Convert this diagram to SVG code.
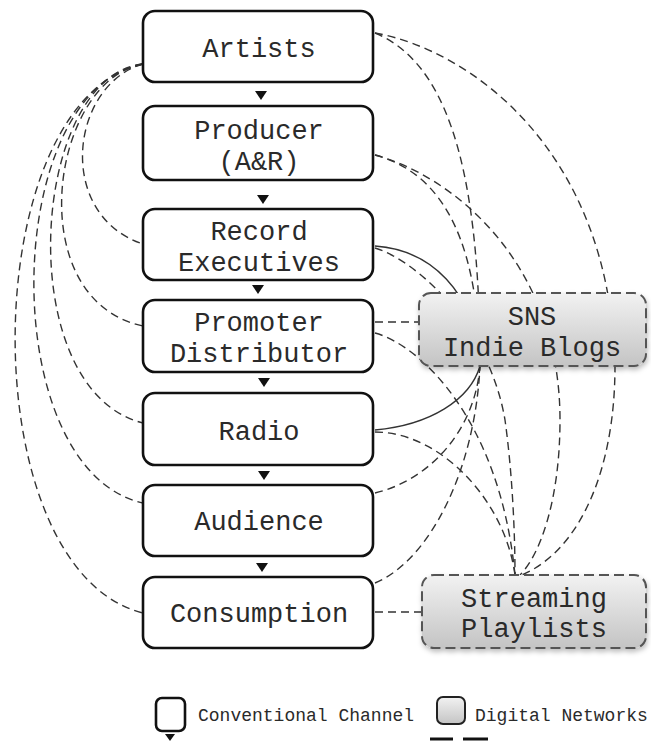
<svg xmlns="http://www.w3.org/2000/svg" width="651" height="742" viewBox="0 0 651 742">
  <defs>
    <linearGradient id="digitalFill" x1="0" y1="0" x2="0" y2="1">
      <stop offset="0" stop-color="#f2f2f2"/>
      <stop offset="1" stop-color="#c4c4c4"/>
    </linearGradient>
    <filter id="softShadow" x="-10%" y="-10%" width="125%" height="135%">
      <feDropShadow dx="1" dy="3" stdDeviation="2.5" flood-color="#000" flood-opacity="0.25"/>
    </filter>
    <style>
      .conv { fill: #ffffff; stroke: #111; stroke-width: 2.6; }
      .digital { fill: url(#digitalFill); stroke: #555; stroke-width: 2; stroke-dasharray: 10 5; filter: url(#softShadow); }
      .label { font-family: "Liberation Mono", "DejaVu Sans Mono", monospace; font-size: 27px; fill: #2a2a2a; text-anchor: middle; }
      .legend-text { font-family: "Liberation Mono", "DejaVu Sans Mono", monospace; font-size: 18px; fill: #2a2a2a; }
      .dash { fill: none; stroke: #333; stroke-width: 1.4; stroke-dasharray: 8 5; }
      .solid { fill: none; stroke: #333; stroke-width: 1.4; }
      .tri { fill: #111; }
    </style>
  </defs>

  <!-- connectors: drawn first so the boxes sit on top -->
  <g id="connectors">
    <!-- Artists to every later stage (left side) -->
    <path class="dash" d="M143,64 C70,85 55,215 143,244"/>
    <path class="dash" d="M143,64 C50,80 20,300 143,326"/>
    <path class="dash" d="M143,64 C30,75 10,390 143,423"/>
    <path class="dash" d="M143,64 C0,90 -5,470 143,503"/>
    <path class="dash" d="M143,64 C-25,100 -30,570 143,613"/>

    <!-- links into SNS / Indie Blogs -->
    <path class="dash" d="M375,33 C440,60 480,150 480,366"/>
    <path class="dash" d="M375,155 C430,170 478,220 480,366"/>
    <path class="solid" d="M375,246 C430,250 475,290 480,366"/>
    <path class="dash" d="M375,322 H419"/>
    <path class="solid" d="M375,430 C430,425 470,400 480,366"/>
    <path class="dash" d="M375,493 C430,480 475,430 480,366"/>
    <path class="dash" d="M375,583 C430,560 475,470 480,366"/>

    <!-- links into Streaming Playlists -->
    <path class="dash" d="M375,33 C470,50 610,150 615,366 C615,470 580,550 522,575"/>
    <path class="dash" d="M375,155 C450,175 560,260 560,420 C560,500 540,555 520,575"/>
    <path class="dash" d="M375,248 C420,262 490,330 505,420 C512,470 515,530 515,575"/>
    <path class="dash" d="M375,333 C420,345 500,420 515,575"/>
    <path class="dash" d="M375,432 C440,432 505,500 515,575"/>
    <path class="dash" d="M375,612 H422"/>

    <!-- flow arrows of the conventional channel -->
    <polygon class="tri" points="255,91 267,91 261,100"/>
    <polygon class="tri" points="257,195 269,195 263,204"/>
    <polygon class="tri" points="252,285 264,285 258,294"/>
    <polygon class="tri" points="258,378 270,378 264,387"/>
    <polygon class="tri" points="258,471 270,471 264,480"/>
    <polygon class="tri" points="256,563 268,563 262,572"/>
  </g>

  <!-- conventional channel -->
  <g id="artists">
    <rect class="conv" x="143" y="11" width="230" height="71" rx="12"/>
    <text class="label" x="259" y="57">Artists</text>
  </g>
  <g id="producer">
    <rect class="conv" x="143" y="106" width="230" height="74" rx="12"/>
    <text class="label" x="259" y="139">Producer</text>
    <text class="label" x="259" y="170">(A&amp;R)</text>
  </g>
  <g id="record-executives">
    <rect class="conv" x="143" y="209" width="230" height="71" rx="12"/>
    <text class="label" x="259" y="240">Record</text>
    <text class="label" x="259" y="271">Executives</text>
  </g>
  <g id="promoter-distributor">
    <rect class="conv" x="143" y="300" width="230" height="72" rx="12"/>
    <text class="label" x="259" y="331">Promoter</text>
    <text class="label" x="259" y="362">Distributor</text>
  </g>
  <g id="radio">
    <rect class="conv" x="143" y="393" width="230" height="72" rx="12"/>
    <text class="label" x="259" y="440">Radio</text>
  </g>
  <g id="audience">
    <rect class="conv" x="143" y="485" width="230" height="71" rx="12"/>
    <text class="label" x="259" y="530">Audience</text>
  </g>
  <g id="consumption">
    <rect class="conv" x="143" y="577" width="230" height="71" rx="12"/>
    <text class="label" x="259" y="622">Consumption</text>
  </g>

  <!-- digital networks -->
  <g id="sns-indie-blogs">
    <rect class="digital" x="419" y="293" width="227" height="73" rx="12"/>
    <text class="label" x="532" y="325">SNS</text>
    <text class="label" x="532" y="356">Indie Blogs</text>
  </g>
  <g id="streaming-playlists">
    <rect class="digital" x="422" y="575" width="224" height="73" rx="12"/>
    <text class="label" x="534" y="607">Streaming</text>
    <text class="label" x="534" y="637">Playlists</text>
  </g>

  <!-- legend -->
  <g id="legend">
    <rect class="conv" x="156" y="698" width="29" height="33" rx="6"/>
    <polygon class="tri" points="165,734 175,734 170,741"/>
    <text class="legend-text" x="198" y="721">Conventional Channel</text>
    <rect x="437" y="697" width="28" height="27" rx="6" fill="url(#digitalFill)" stroke="#222" stroke-width="2"/>
    <line x1="430" y1="739" x2="453" y2="739" stroke="#111" stroke-width="3"/>
    <line x1="463" y1="739" x2="488" y2="739" stroke="#111" stroke-width="3"/>
    <text class="legend-text" x="475" y="721">Digital Networks</text>
  </g>
</svg>
